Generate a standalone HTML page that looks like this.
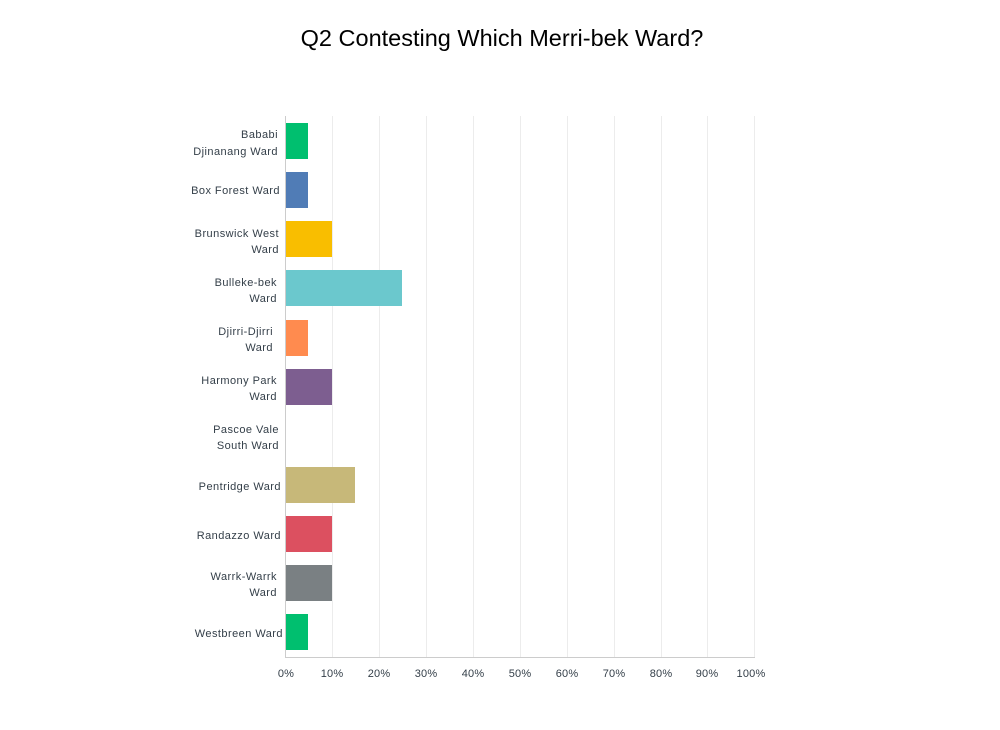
<!DOCTYPE html>
<html><head><meta charset="utf-8"><style>
body{margin:0;background:#fff;}
svg{display:block;font-family:"Liberation Sans",sans-serif;}
.l{font-size:11px;fill:#333e48;text-anchor:end;letter-spacing:0.45px;}
.t{font-size:11px;fill:#333e48;text-anchor:middle;letter-spacing:0.2px;}
</style></head><body>
<svg width="1000" height="730" viewBox="0 0 1000 730">
<text x="502" y="46" text-anchor="middle" font-size="23.5" fill="#000">Q2 Contesting Which Merri-bek Ward?</text>
<g stroke="#ececec" stroke-width="1">
<line x1="332.5" y1="116" x2="332.5" y2="657"/><line x1="379.5" y1="116" x2="379.5" y2="657"/>
<line x1="426.5" y1="116" x2="426.5" y2="657"/><line x1="473.5" y1="116" x2="473.5" y2="657"/>
<line x1="520.5" y1="116" x2="520.5" y2="657"/><line x1="567.5" y1="116" x2="567.5" y2="657"/>
<line x1="614.5" y1="116" x2="614.5" y2="657"/><line x1="661.5" y1="116" x2="661.5" y2="657"/>
<line x1="707.5" y1="116" x2="707.5" y2="657"/><line x1="754.5" y1="116" x2="754.5" y2="657"/>
</g>
<line x1="285.5" y1="116" x2="285.5" y2="657.5" stroke="#ccc"/>
<line x1="285" y1="657.5" x2="755" y2="657.5" stroke="#ccc"/>
<rect x="286" y="123" width="22" height="36" fill="#00bf6f"/>
<rect x="286" y="172" width="22" height="36" fill="#507cb6"/>
<rect x="286" y="221" width="46" height="36" fill="#f9be00"/>
<rect x="286" y="270" width="116" height="36" fill="#6bc8cd"/>
<rect x="286" y="320" width="22" height="36" fill="#ff8b4f"/>
<rect x="286" y="369" width="46" height="36" fill="#7d5e90"/>
<rect x="286" y="467" width="69" height="36" fill="#c7b879"/>
<rect x="286" y="516" width="46" height="36" fill="#dc5060"/>
<rect x="286" y="565" width="46" height="36" fill="#7a8083"/>
<rect x="286" y="614" width="22" height="36" fill="#00bf6f"/>
<g class="l">
<text x="278" y="138">Bababi</text><text x="278" y="155">Djinanang Ward</text>
<text x="280" y="194">Box Forest Ward</text>
<text x="279" y="237">Brunswick West</text><text x="279" y="253">Ward</text>
<text x="277" y="286">Bulleke-bek</text><text x="277" y="302">Ward</text>
<text x="273" y="335">Djirri-Djirri</text><text x="273" y="351">Ward</text>
<text x="277" y="384">Harmony Park</text><text x="277" y="400">Ward</text>
<text x="279" y="433">Pascoe Vale</text><text x="279" y="449">South Ward</text>
<text x="281" y="490">Pentridge Ward</text>
<text x="281" y="539">Randazzo Ward</text>
<text x="277" y="580">Warrk-Warrk</text><text x="277" y="596">Ward</text>
<text x="283" y="637">Westbreen Ward</text>
</g>
<g class="t">
<text x="286" y="677">0%</text><text x="332" y="677">10%</text><text x="379" y="677">20%</text>
<text x="426" y="677">30%</text><text x="473" y="677">40%</text><text x="520" y="677">50%</text>
<text x="567" y="677">60%</text><text x="614" y="677">70%</text><text x="661" y="677">80%</text>
<text x="707" y="677">90%</text><text x="751" y="677">100%</text>
</g>
</svg>
</body></html>
